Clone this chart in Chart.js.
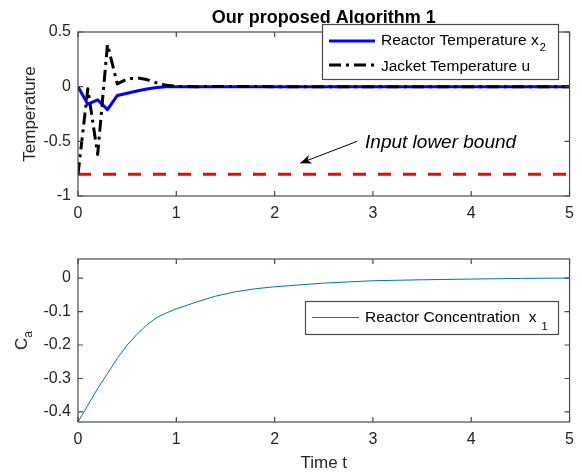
<!DOCTYPE html>
<html>
<head>
<meta charset="utf-8">
<script src="https://cdn.jsdelivr.net/npm/chart.js@4.4.1/dist/chart.umd.min.js"></script>
<style>
  body { margin: 0; background: #fff; }
  #wrap { position: relative; width: 582px; height: 472px; }
  canvas { position: absolute; left: 0; }
</style>
</head>
<body>
<div id="wrap">
  <canvas id="top-chart" width="582" height="236" style="top:0"></canvas>
  <canvas id="bottom-chart" width="582" height="236" style="top:236px"></canvas>
</div>
<script>
"use strict";
// data
const tTop = [0, 0.1, 0.2, 0.3, 0.4, 0.5, 0.6, 0.7, 0.8, 0.9, 1.0, 1.2, 1.5, 2, 2.5, 3, 4, 5];
const reactorTemp = [0, -0.16, -0.12, -0.21, -0.08, -0.06, -0.04, -0.022, -0.008, 0, 0, 0, 0, 0, 0, 0, 0, 0];
const jacketTemp = [-0.8, -0.02, -0.62, 0.385, 0.025, 0.07, 0.08, 0.065, 0.035, 0.012, 0.003, 0, 0.002, 0, 0, 0, 0, 0];
const tBound = [0, 5];
const lowerBound = [-0.8, -0.8];

const tBot = [0, 0.1, 0.2, 0.3, 0.4, 0.5, 0.6, 0.7, 0.8, 0.9, 1.0, 1.2, 1.4, 1.6, 1.8, 2.0, 2.5, 3, 3.5, 4, 4.5, 5];
const reactorConc = [-0.43, -0.38, -0.33, -0.285, -0.24, -0.2, -0.168, -0.14, -0.118, -0.104, -0.092, -0.072,
                     -0.054, -0.041, -0.032, -0.026, -0.015, -0.008, -0.005, -0.003, -0.001, 0];

const xTicks = [0, 1, 2, 3, 4, 5];
const yTicksTop = [-1, -0.5, 0, 0.5];
const yTicksBot = [-0.4, -0.3, -0.2, -0.1, 0];

const FONT = "'Liberation Sans', Arial, Helvetica, sans-serif";
const INK = '#262626';

function pts(xs, ys) { return xs.map((x, i) => ({ x: x, y: ys[i] })); }

function fmt(v) { return String(Math.round(v * 100) / 100); }

// box + inward ticks, MATLAB style
function drawBox(chart, yTicks) {
    const ctx = chart.ctx, a = chart.chartArea;
    const xs = chart.scales.x, ys = chart.scales.y;
    ctx.save();
    ctx.strokeStyle = '#4a4a4a';
    ctx.lineWidth = 1.2;
    ctx.strokeRect(a.left, a.top, a.right - a.left, a.bottom - a.top);
    ctx.beginPath();
    xTicks.forEach(v => {
        const px = xs.getPixelForValue(v);
        ctx.moveTo(px, a.bottom); ctx.lineTo(px, a.bottom - 5);
        ctx.moveTo(px, a.top); ctx.lineTo(px, a.top + 5);
    });
    yTicks.forEach(v => {
        const py = ys.getPixelForValue(v);
        ctx.moveTo(a.left, py); ctx.lineTo(a.left + 5, py);
        ctx.moveTo(a.right, py); ctx.lineTo(a.right - 5, py);
    });
    ctx.stroke();
    ctx.restore();
}

function baseScales(yMin, yMax, yStep, xHeight) {
    return {
        x: {
            type: 'linear', min: 0, max: 5,
            grid: { display: false, drawTicks: false }, border: { display: false },
            ticks: { stepSize: 1, padding: 8, color: INK, font: { family: FONT, size: 16 }, callback: fmt },
            afterFit: s => { s.height = xHeight; }
        },
        y: {
            type: 'linear', min: yMin, max: yMax,
            grid: { display: false, drawTicks: false }, border: { display: false },
            ticks: { stepSize: yStep, includeBounds: false, padding: 7, color: INK, font: { family: FONT, size: 16 }, callback: fmt },
            afterFit: s => { s.width = 78; }
        }
    };
}

// Top chart
new Chart(document.getElementById("top-chart"), {
    type: 'line',
    data: {
        datasets: [
            { data: pts(tTop, jacketTemp), borderColor: '#000000', borderWidth: 3, borderDash: [12, 5, 3, 5], borderJoinStyle: 'round', order: 1 },
            { data: pts(tTop, reactorTemp), borderColor: '#0000ff', borderWidth: 3, borderJoinStyle: 'round', order: 2 },
            { data: pts(tBound, lowerBound), borderColor: '#ff0000', borderWidth: 3, borderDash: [13, 12], order: 3 }
        ]
    },
    options: {
        responsive: false, animation: false, devicePixelRatio: 1,
        layout: { padding: { left: 0, right: 11, top: 32, bottom: 0 } },
        elements: { point: { radius: 0 }, line: { tension: 0 } },
        plugins: { legend: { display: false }, tooltip: { enabled: false } },
        scales: baseScales(-1, 0.5, 0.5, 40)
    },
    plugins: [{
        id: 'matlabTop',
        afterDatasetsDraw(chart) {
            const ctx = chart.ctx, a = chart.chartArea;
            const xs = chart.scales.x, ys = chart.scales.y;
            drawBox(chart, yTicksTop);
            ctx.save();
            // title
            ctx.fillStyle = '#000';
            ctx.font = 'bold 18px ' + FONT;
            ctx.textAlign = 'center';
            ctx.textBaseline = 'alphabetic';
            ctx.fillText('Our proposed Algorithm 1', (a.left + a.right) / 2, 23);
            // y label
            ctx.fillStyle = INK;
            ctx.font = '17px ' + FONT;
            ctx.translate(35, (a.top + a.bottom) / 2);
            ctx.rotate(-Math.PI / 2);
            ctx.fillText('Temperature', 0, 0);
            ctx.restore();

            // annotation
            ctx.save();
            const tipX = xs.getPixelForValue(2.26), tipY = ys.getPixelForValue(-0.70);
            const tailX = xs.getPixelForValue(2.84), tailY = ys.getPixelForValue(-0.50);
            const ang = Math.atan2(tipY - tailY, tipX - tailX);
            ctx.strokeStyle = '#000'; ctx.fillStyle = '#000'; ctx.lineWidth = 1;
            ctx.beginPath(); ctx.moveTo(tailX, tailY); ctx.lineTo(tipX, tipY); ctx.stroke();
            ctx.beginPath();
            ctx.moveTo(tipX, tipY);
            ctx.lineTo(tipX - 12 * Math.cos(ang - 0.4), tipY - 12 * Math.sin(ang - 0.4));
            ctx.lineTo(tipX - 8 * Math.cos(ang), tipY - 8 * Math.sin(ang));
            ctx.lineTo(tipX - 12 * Math.cos(ang + 0.4), tipY - 12 * Math.sin(ang + 0.4));
            ctx.closePath(); ctx.fill();
            ctx.font = 'italic 19px ' + FONT;
            ctx.textAlign = 'left'; ctx.textBaseline = 'middle';
            ctx.fillText('Input lower bound', xs.getPixelForValue(2.92), ys.getPixelForValue(-0.51));

            // legend
            ctx.fillStyle = '#fff';
            ctx.fillRect(322, 24, 236, 55);
            ctx.strokeStyle = '#4a4a4a'; ctx.lineWidth = 1.2;
            ctx.strokeRect(322.5, 24.5, 236, 55);
            ctx.lineWidth = 3;
            ctx.strokeStyle = '#0000ff';
            ctx.beginPath(); ctx.moveTo(329, 41); ctx.lineTo(375, 41); ctx.stroke();
            ctx.strokeStyle = '#000';
            ctx.setLineDash([12, 5, 3, 5]);
            ctx.beginPath(); ctx.moveTo(329, 65); ctx.lineTo(375, 65); ctx.stroke();
            ctx.setLineDash([]);
            ctx.fillStyle = '#000';
            ctx.textBaseline = 'alphabetic';
            ctx.font = '15.5px ' + FONT;
            ctx.fillText('Reactor Temperature x', 381, 45);
            const w = ctx.measureText('Reactor Temperature x').width;
            ctx.font = '11px ' + FONT;
            ctx.fillText('2', 381 + w + 1, 51);
            ctx.font = '15.5px ' + FONT;
            ctx.fillText('Jacket Temperature u', 381, 71);
            ctx.restore();
        }
    }]
});

// Bottom chart
new Chart(document.getElementById("bottom-chart"), {
    type: 'line',
    data: {
        datasets: [
            { data: pts(tBot, reactorConc), borderColor: '#0072BD', borderWidth: 1 }
        ]
    },
    options: {
        responsive: false, animation: false, devicePixelRatio: 1,
        layout: { padding: { left: 0, right: 11, top: 23, bottom: 0 } },
        elements: { point: { radius: 0 }, line: { tension: 0 } },
        plugins: { legend: { display: false }, tooltip: { enabled: false } },
        scales: baseScales(-0.43, 0.057, 0.1, 50)
    },
    plugins: [{
        id: 'matlabBottom',
        afterDatasetsDraw(chart) {
            const ctx = chart.ctx, a = chart.chartArea;
            drawBox(chart, yTicksBot);
            ctx.save();
            ctx.fillStyle = INK;
            ctx.font = '17px ' + FONT;
            ctx.textAlign = 'center';
            ctx.fillText('Time t', (a.left + a.right) / 2, 232);
            // y label C_a
            ctx.save();
            ctx.translate(27, (a.top + a.bottom) / 2);
            ctx.rotate(-Math.PI / 2);
            ctx.textAlign = 'left';
            ctx.font = '17px ' + FONT;
            const cw = ctx.measureText('C').width;
            ctx.font = '12px ' + FONT;
            const aw = ctx.measureText('a').width;
            const x0 = -(cw + aw) / 2;
            ctx.font = '17px ' + FONT;
            ctx.fillText('C', x0, 0);
            ctx.font = '12px ' + FONT;
            ctx.fillText('a', x0 + cw, 5);
            ctx.restore();

            // legend
            const top = 301 - 236;
            ctx.fillStyle = '#fff';
            ctx.fillRect(305, top, 253, 33);
            ctx.strokeStyle = '#4a4a4a'; ctx.lineWidth = 1.2;
            ctx.strokeRect(305.5, top + 0.5, 253, 33);
            ctx.strokeStyle = '#0072BD'; ctx.lineWidth = 1;
            ctx.beginPath(); ctx.moveTo(312, top + 16.5); ctx.lineTo(359, top + 16.5); ctx.stroke();
            ctx.fillStyle = '#000';
            ctx.textAlign = 'left';
            ctx.font = '15.5px ' + FONT;
            ctx.fillText('Reactor Concentration  x', 365, top + 21);
            const w = ctx.measureText('Reactor Concentration  x').width;
            ctx.font = '11px ' + FONT;
            ctx.fillText('1', 365 + w + 5, top + 29);
            ctx.restore();
        }
    }]
});
</script>
</body>
</html>
